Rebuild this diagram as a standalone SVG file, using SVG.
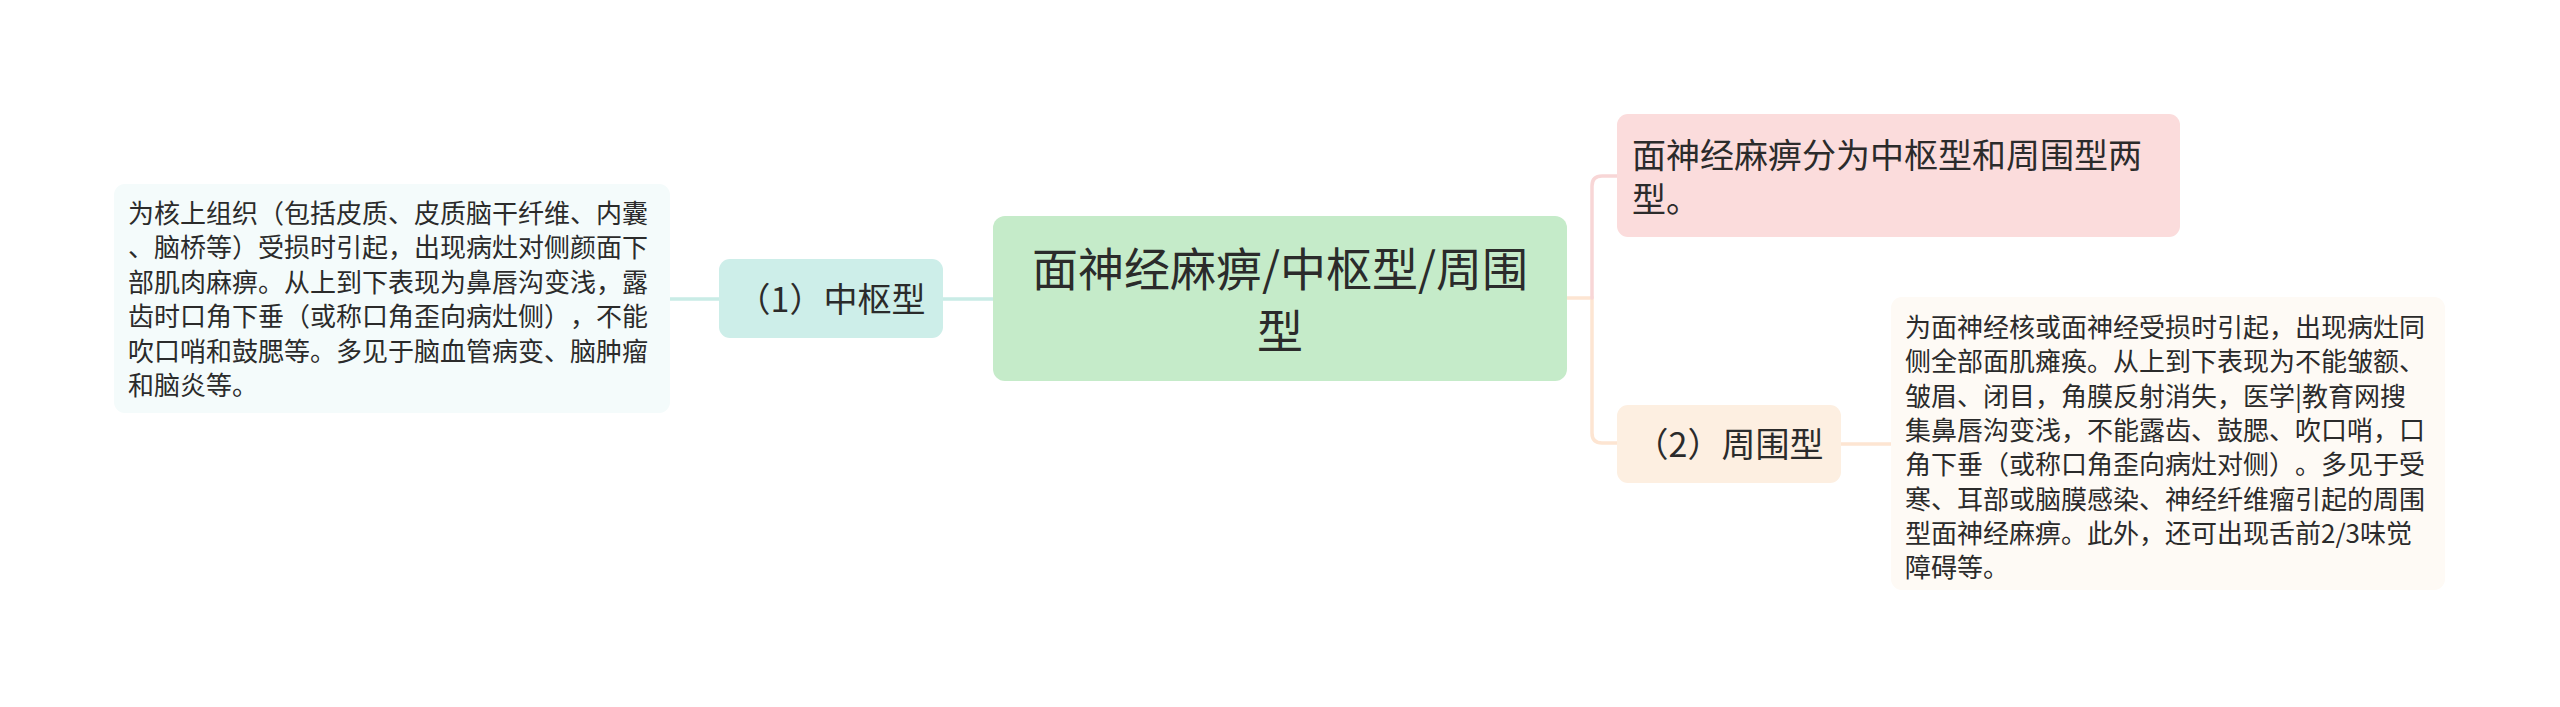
<svg xmlns="http://www.w3.org/2000/svg" width="2560" height="707" viewBox="0 0 2560 707">
<style>
text{font-family:"Noto Sans CJK SC","Noto Sans",sans-serif;fill:#2b2b2b;text-spacing-trim:space-all}
.d{font-size:26px}
.m{font-size:34px}
.c{font-size:46px}
.ln{fill:none;stroke-width:3.5;stroke-linecap:round}
.teal{stroke:#c9ece6}
.peach{stroke:#fde5d2}
.pink{stroke:#f8d6d6}
</style>
<rect width="2560" height="707" fill="#ffffff"/>
<g id="connectors">
<path class="ln teal" d="M670,299H719"/>
<path class="ln teal" d="M943,299H993"/>
<path class="ln peach" d="M1567,298H1592V433Q1592,443 1602,443H1617"/>
<path class="ln pink" d="M1592,298V186Q1592,176 1602,176H1617"/>
<path class="ln peach" d="M1841,444H1891"/>
</g>
<g id="central">
<rect x="993" y="216" width="574" height="165" rx="12" fill="#c5ebc9"/>
<text class="c" x="1280" y="285.5" text-anchor="middle">面神经麻痹/中枢型/周围</text>
<text class="c" x="1280" y="347.5" text-anchor="middle">型</text>
</g>
<g id="central-type">
<rect x="719" y="259" width="224" height="79" rx="11" fill="#cdeee9"/>
<text class="m" x="831" y="312" text-anchor="middle">（1）中枢型</text>
</g>
<g id="central-detail">
<rect x="114" y="184" width="556" height="229" rx="11" fill="#f4fbfb"/>
<text class="d" x="128" y="223">为核上组织（包括皮质、皮质脑干纤维、内囊</text>
<text class="d" x="128" y="257.4">、脑桥等）受损时引起，出现病灶对侧颜面下</text>
<text class="d" x="128" y="291.8">部肌肉麻痹。从上到下表现为鼻唇沟变浅，露</text>
<text class="d" x="128" y="326.2">齿时口角下垂（或称口角歪向病灶侧），不能</text>
<text class="d" x="128" y="360.6">吹口哨和鼓腮等。多见于脑血管病变、脑肿瘤</text>
<text class="d" x="128" y="395">和脑炎等。</text>
</g>
<g id="summary">
<rect x="1617" y="114" width="563" height="123" rx="11" fill="#fbdcdc"/>
<text class="m" x="1632" y="168">面神经麻痹分为中枢型和周围型两</text>
<text class="m" x="1632" y="212">型。</text>
</g>
<g id="peripheral-type">
<rect x="1617" y="405" width="224" height="78" rx="11" fill="#fdefe1"/>
<text class="m" x="1729" y="457" text-anchor="middle">（2）周围型</text>
</g>
<g id="peripheral-detail">
<rect x="1891" y="297" width="554" height="293" rx="11" fill="#fefaf5"/>
<text class="d" x="1905" y="337">为面神经核或面神经受损时引起，出现病灶同</text>
<text class="d" x="1905" y="371.3">侧全部面肌瘫痪。从上到下表现为不能皱额、</text>
<text class="d" x="1905" y="405.6">皱眉、闭目，角膜反射消失，医学|教育网搜</text>
<text class="d" x="1905" y="439.9">集鼻唇沟变浅，不能露齿、鼓腮、吹口哨，口</text>
<text class="d" x="1905" y="474.2">角下垂（或称口角歪向病灶对侧）。多见于受</text>
<text class="d" x="1905" y="508.5">寒、耳部或脑膜感染、神经纤维瘤引起的周围</text>
<text class="d" x="1905" y="542.8">型面神经麻痹。此外，还可出现舌前2/3味觉</text>
<text class="d" x="1905" y="577.1">障碍等。</text>
</g>
</svg>
